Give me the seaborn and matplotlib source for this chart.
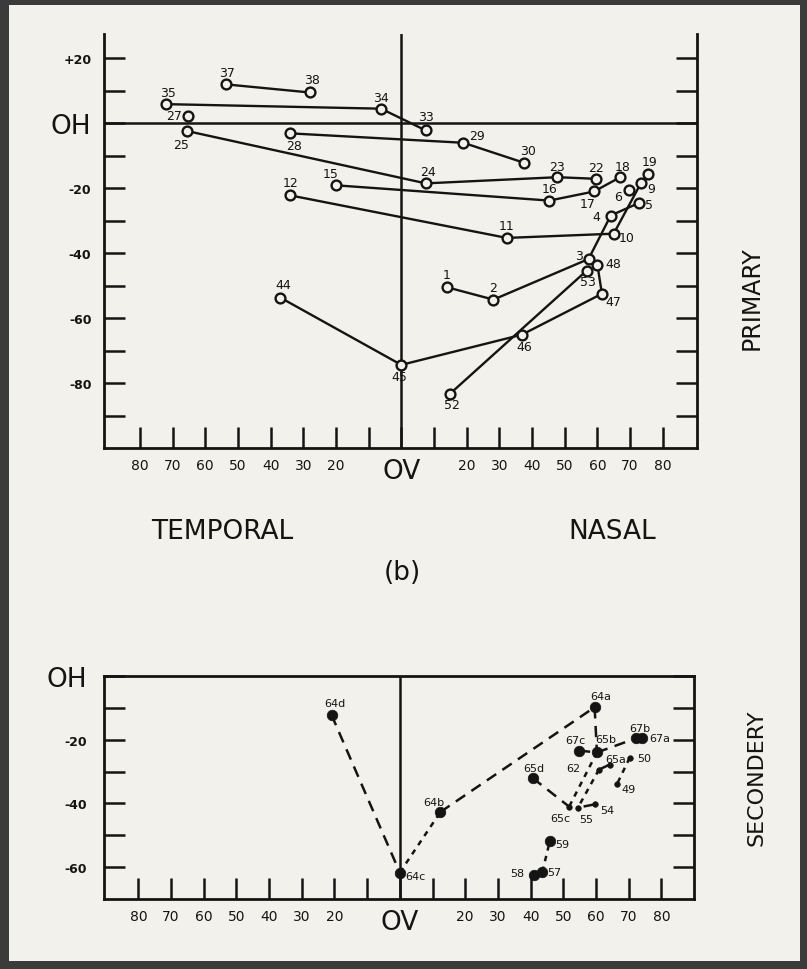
import numpy as np
import pandas as pd
import matplotlib
matplotlib.use("Agg")
import matplotlib.pyplot as plt
import seaborn as sns
from matplotlib.patches import Rectangle

# ---- primary positions (deg), temporal < 0 < nasal, OH = 0
prim_ids = ["1", "2", "3", "4", "5", "6", "9", "10", "11", "12", "15", "16", "17", "18",
            "19", "22", "23", "24", "25", "27", "28", "29", "30", "33", "34", "35", "37",
            "38", "44", "45", "46", "47", "48", "52", "53"]
prim_x = [14.0, 28.2, 57.3, 64.1, 72.8, 69.7, 73.3, 65.0, 32.3, -34.0, -20.0, 45.3, 59.0, 67.0,
          75.6, 59.7, 47.8, 7.5, -65.5, -65.3, -34.0, 19.0, 37.4, 7.5, -6.2, -72.0, -53.8,
          -28.1, -37.0, 0.0, 36.9, 61.4, 60.0, 14.9, 56.7]
prim_y = [-50.5, -54.3, -41.8, -28.4, -24.5, -20.5, -18.5, -34.0, -35.3, -22.2, -19.1, -23.8, -21.0, -16.6,
          -15.6, -17.1, -16.6, -18.5, -2.4, 2.3, -3.1, -6.0, -12.1, -2.2, 4.5, 5.9, 12.0,
          9.5, -53.7, -74.4, -65.1, -52.5, -43.5, -83.3, -45.4]
prim_paths = [["37", "38"], ["35", "34", "33"], ["25", "24", "23", "22"], ["28", "29", "30"],
              ["15", "16", "17", "18"], ["12", "11", "10", "9"], ["1", "2", "3", "4", "5"],
              ["44", "45", "46", "47", "48"], ["52", "53"]]

# ---- secondary positions
sec_ids = ["64a", "64b", "64c", "64d", "65a", "65b", "65c", "65d", "67a", "67b", "67c",
           "62", "50", "49", "54", "55", "57", "58", "59"]
sec_x = [59.6, 12.4, 0.0, -20.9, 64.2, 60.3, 51.8, 40.6, 74.2, 72.4, 54.8,
         60.9, 70.3, 66.5, 59.6, 54.5, 43.6, 41.0, 45.9]
sec_y = [-9.8, -42.7, -61.7, -12.2, -27.8, -24.0, -41.0, -32.0, -19.5, -19.5, -23.4,
         -29.4, -25.7, -33.8, -40.3, -41.3, -61.5, -62.5, -51.8]
sec_dash_links = [("64d", "64c"), ("64b", "64a"), ("64a", "65b"), ("65d", "65c"),
                  ("65b", "67b"), ("67c", "65b"), ("54", "55"), ("62", "65a")]
sec_dot_links = [("64c", "64b"), ("65b", "65c"), ("62", "55"), ("50", "49"), ("57", "59")]
sec_small = ["65a", "65c", "62", "50", "49", "54", "55"]

x_ticks = list(range(-80, 90, 10))
x_labels = ["80", "70", "60", "50", "40", "30", "20", "", "OV", "", "20", "30", "40", "50", "60", "70", "80"]

# label offsets from marker, pixels (right, up)
prim_off = {"1": (0, 13), "2": (0, 12), "3": (-10, 4), "4": (-14, -1), "5": (10, -2), "6": (-11, -7),
            "9": (10, -5), "10": (13, -4), "11": (0, 12), "12": (0, 13), "15": (-5, 12), "16": (0, 12),
            "17": (-6, -12), "18": (2, 11), "19": (1, 12), "22": (0, 11), "23": (0, 11), "24": (2, 12),
            "25": (-6, -13), "27": (-14, 0), "28": (4, -12), "29": (14, 7), "30": (5, 12), "33": (0, 14),
            "34": (0, 11), "35": (2, 12), "37": (1, 12), "38": (3, 13), "44": (3, 13), "45": (-2, -12),
            "46": (2, -12), "47": (11, -8), "48": (16, 1), "52": (2, -11), "53": (1, -11)}
sec_off = {"64a": (6, 11), "64b": (-7, 10), "64c": (16, -3), "64d": (3, 12), "65a": (6, 6),
           "65b": (9, 13), "65c": (-9, -11), "65d": (1, 10), "67a": (17, 0), "67b": (3, 10),
           "67c": (-4, 11), "62": (-26, 2), "50": (15, 0), "49": (11, -5), "54": (13, -6),
           "55": (8, -11), "57": (12, 0), "58": (-17, 2), "59": (12, -3)}

paper = "#f3f1eb"
ink = "#141414"

sns.set_theme(style="white")
plt.rcParams["font.family"] = ["DejaVu Sans"]

prim = pd.DataFrame({"id": prim_ids, "x": prim_x, "y": prim_y}).set_index("id", drop=False)
sec = pd.DataFrame({"id": sec_ids, "x": sec_x, "y": sec_y}).set_index("id", drop=False)

fig = plt.figure(figsize=(8.07, 9.70), dpi=100, facecolor="#3b3b3b")
fig.patches.append(Rectangle((9 / 807, 8 / 970), 1 - 16 / 807, 1 - 14 / 970,
                             transform=fig.transFigure, facecolor=paper, edgecolor="none", zorder=-5))

ax1 = fig.add_axes([104 / 807, 1 - 449 / 970, 593 / 807, 414 / 970])
ax2 = fig.add_axes([104 / 807, 1 - 900 / 970, 590 / 807, 223 / 970])


def style_axes(ax):
    ax.set_facecolor(paper)
    for s in ax.spines.values():
        s.set_color(ink)
        s.set_linewidth(2.0)
    ax.tick_params(axis="both", direction="in", length=15, width=1.8, color=ink,
                   labelcolor=ink, labelsize=10)
    ax.tick_params(axis="y", right=True, left=True, pad=9)
    ax.tick_params(axis="x", bottom=True, pad=7)
    ax.set_xticks(x_ticks)
    ax.set_xticklabels(x_labels)
    for t in ax.get_xticklabels():
        if t.get_text() == "OV":
            t.set_fontsize(19)
    ax.axvline(0, color=ink, lw=1.8, zorder=1)
    ax.set_xlabel("")
    ax.set_ylabel("")


# ---- top panel
for path in prim_paths:
    sns.lineplot(data=prim.loc[path], x="x", y="y", sort=False, estimator=None,
                 color=ink, lw=1.7, ax=ax1, zorder=2)
sns.scatterplot(data=prim, x="x", y="y", marker="o", s=50, facecolor=paper,
                edgecolor=ink, linewidth=1.7, ax=ax1, zorder=3)
for pid in prim_ids:
    dx, dy = prim_off[pid]
    ax1.annotate(pid, (prim.loc[pid, "x"], prim.loc[pid, "y"]), xytext=(dx * 0.72, dy * 0.72),
                 textcoords="offset points", ha="center", va="center", fontsize=9, color=ink)
ax1.axhline(0, color=ink, lw=1.8, zorder=1)
ax1.set_xlim(-91, 90.5)
ax1.set_ylim(-100, 27.5)
style_axes(ax1)
ax1.spines["top"].set_visible(False)
ax1.set_yticks(list(range(-90, 30, 10)))
ax1.set_yticklabels(["", "-80", "", "-60", "", "-40", "", "-20", "", "OH", "", "+20"])
for t in ax1.get_yticklabels():
    if t.get_text() == "OH":
        t.set_fontsize(19)
    else:
        t.set_fontweight("bold")
        t.set_fontsize(9)

# ---- bottom panel
for a, b in sec_dash_links:
    sns.lineplot(data=sec.loc[[a, b]], x="x", y="y", sort=False, estimator=None,
                 color=ink, lw=1.8, linestyle=(0, (4.5, 3)), ax=ax2, zorder=2)
for a, b in sec_dot_links:
    sns.lineplot(data=sec.loc[[a, b]], x="x", y="y", sort=False, estimator=None,
                 color=ink, lw=1.8, linestyle=(0, (2.2, 2.2)), ax=ax2, zorder=2)
big = sec[~sec["id"].isin(sec_small)]
small = sec[sec["id"].isin(sec_small)]
sns.scatterplot(data=big, x="x", y="y", marker="o", s=58, color=ink, edgecolor=ink,
                linewidth=0.5, ax=ax2, zorder=3)
sns.scatterplot(data=small, x="x", y="y", marker="o", s=16, color=ink, edgecolor=ink,
                linewidth=0.5, ax=ax2, zorder=3)
for pid in sec_ids:
    dx, dy = sec_off[pid]
    ax2.annotate(pid, (sec.loc[pid, "x"], sec.loc[pid, "y"]), xytext=(dx * 0.72, dy * 0.72),
                 textcoords="offset points", ha="center", va="center", fontsize=8, color=ink)
ax2.set_xlim(-90.5, 90)
ax2.set_ylim(-70, 0)
style_axes(ax2)
ax2.set_yticks(list(range(-60, 10, 10)))
ax2.set_yticklabels(["-60", "", "-40", "", "-20", "", "OH"])
ax2.tick_params(axis="y", pad=12)
for t in ax2.get_yticklabels():
    if t.get_text() == "OH":
        t.set_fontsize(19)
    else:
        t.set_fontweight("bold")
        t.set_fontsize(9)

# ---- captions
fig.text(222 / 807, 1 - 532 / 970, "TEMPORAL", ha="center", va="center", fontsize=19, color=ink)
fig.text(612 / 807, 1 - 532 / 970, "NASAL", ha="center", va="center", fontsize=19, color=ink)
fig.text(402 / 807, 1 - 573 / 970, "(b)", ha="center", va="center", fontsize=19, color=ink)
fig.text(752 / 807, 1 - 298 / 970, "PRIMARY", ha="center", va="center", rotation=90,
         fontsize=17, color=ink)
fig.text(757 / 807, 1 - 778 / 970, "SECONDERY", ha="center", va="center", rotation=90,
         fontsize=16, color=ink)

fig.savefig("out.png", dpi=100, facecolor=fig.get_facecolor())
